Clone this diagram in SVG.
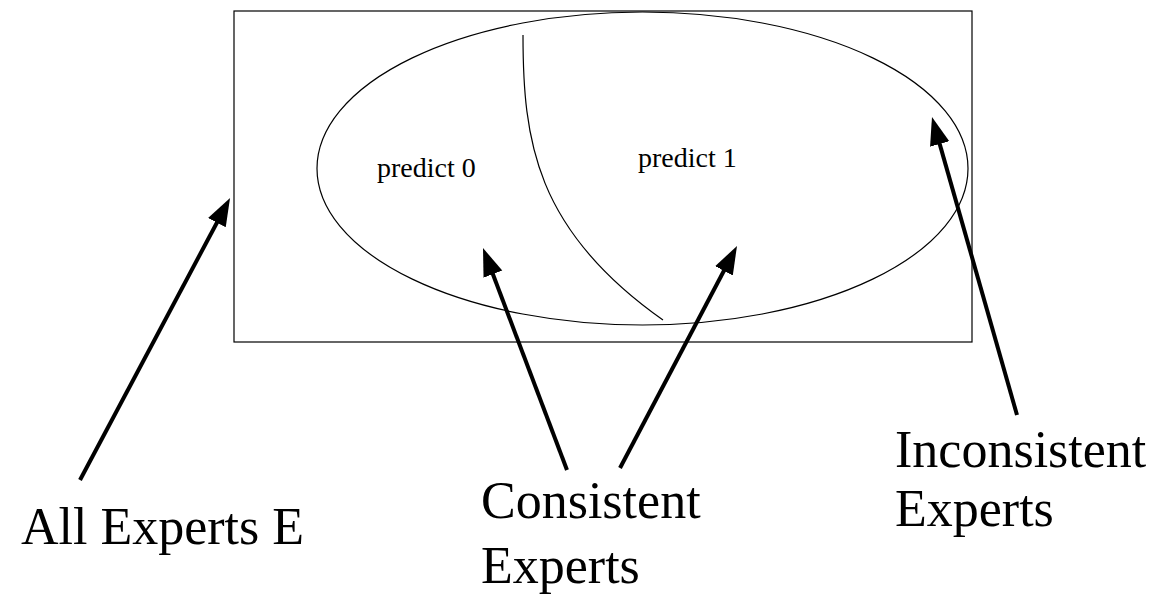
<svg xmlns="http://www.w3.org/2000/svg" width="1157" height="594" viewBox="0 0 1157 594">
<style>
.thin{fill:none;stroke:#000;stroke-width:1.2}
.arrow{stroke:#000;stroke-width:4;fill:none}
.small{font-family:"Liberation Serif","Times New Roman",serif;font-size:28px;fill:#000}
.big{font-family:"Liberation Serif","Times New Roman",serif;font-size:52px;fill:#000}
</style>
<defs>
<marker id="ah" markerUnits="userSpaceOnUse" markerWidth="30" markerHeight="22" refX="13" refY="10" orient="auto" viewBox="0 0 30 22">
<path d="M0,0 L28,10 L0,20 z" fill="#000"/>
</marker>
</defs>
<rect width="1157" height="594" fill="#fff"/>
<g id="all-experts-box">
<rect class="thin" x="234" y="11" width="738" height="331"/>
</g>
<g id="consistent-ellipse">
<ellipse class="thin" cx="642.5" cy="168.5" rx="325.5" ry="156.5"/>
<path class="thin" d="M523,35 C523,140 535,230 663,320"/>
</g>
<g id="predict0"><text class="small" x="377" y="177">predict 0</text></g>
<g id="predict1"><text class="small" x="638" y="167">predict 1</text></g>
<g id="label-all"><text class="big" x="21" y="544">All Experts E</text></g>
<g id="label-consistent"><text class="big" x="481" y="518">Consistent</text><text class="big" x="481" y="583">Experts</text></g>
<g id="label-inconsistent"><text class="big" x="895" y="467">Inconsistent</text><text class="big" x="895" y="526">Experts</text></g>
<g id="connectors">
<line class="arrow" x1="80" y1="480" x2="223" y2="211.2" marker-end="url(#ah)"/>
<line class="arrow" x1="567" y1="470" x2="488.3" y2="262" marker-end="url(#ah)"/>
<line class="arrow" x1="620" y1="468" x2="730" y2="259.3" marker-end="url(#ah)"/>
<line class="arrow" x1="1017" y1="415" x2="936.1" y2="131.4" marker-end="url(#ah)"/>
</g>
</svg>
